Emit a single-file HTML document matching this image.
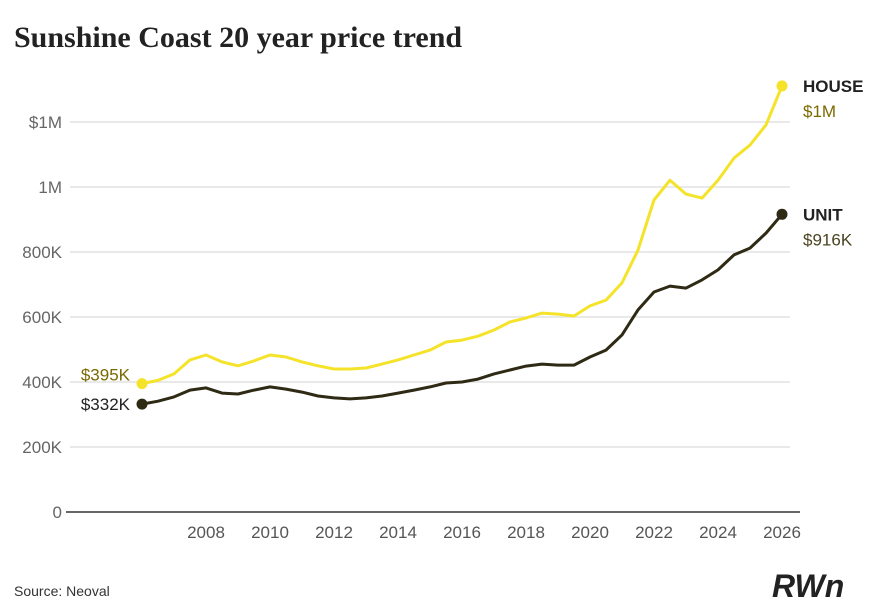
<!DOCTYPE html>
<html><head><meta charset="utf-8"><style>
body{margin:0;background:#fff;width:879px;height:614px;overflow:hidden;font-family:"Liberation Sans",sans-serif}
svg{display:block}
</style></head><body>
<svg width="879" height="614">
<text x="14" y="47" font-family="Liberation Serif,serif" font-weight="bold" font-size="30" fill="#222">Sunshine Coast 20 year price trend</text>
<g id="grid"></g>
<g id="yt"></g>
<g id="xt"></g>
<g id="series"></g>
<text x="14" y="596" font-size="14" fill="#333">Source: Neoval</text>
<text x="772" y="597" font-size="32" font-weight="bold" font-style="italic" fill="#222">RWn</text>
</svg>
<script>
const years=[2006,2006.5,2007,2007.5,2008,2008.5,2009,2009.5,2010,2010.5,2011,2011.5,2012,2012.5,2013,2013.5,2014,2014.5,2015,2015.5,2016,2016.5,2017,2017.5,2018,2018.5,2019,2019.5,2020,2020.5,2021,2021.5,2022,2022.5,2023,2023.5,2024,2024.5,2025,2025.5,2026];
const house=[395,405,425,468,483,462,450,465,483,477,462,450,440,440,443,455,468,483,498,523,529,541,560,585,597,612,609,603,634,652,705,806,960,1021,978,966,1021,1089,1129,1191,1311];
const unit=[332,341,354,375,382,366,363,375,385,378,369,357,351,348,351,357,366,375,385,397,400,409,425,437,449,455,452,452,477,498,545,622,677,695,689,714,745,791,812,858,916];
const yTicks=[0,200,400,600,800,1000,1200];
const yLabels=["0","200K","400K","600K","800K","1M","$1M"];
const xTicks=[2008,2010,2012,2014,2016,2018,2020,2022,2024,2026];
const NS="http://www.w3.org/2000/svg";
const X=v=>142+(v-2006)*32;
const Y=v=>512-v*65/200;
function mk(t,a,p){const e=document.createElementNS(NS,t);for(const k in a)e.setAttribute(k,a[k]);p.appendChild(e);return e;}
const grid=document.getElementById('grid'),yt=document.getElementById('yt'),xt=document.getElementById('xt'),se=document.getElementById('series');
yTicks.forEach((v,i)=>{
 if(v>0){const l=mk('line',{x1:70,x2:790,y1:Y(v),y2:Y(v),stroke:'#e2e2e2','stroke-width':1.5},grid);
 
 }
 const t=mk('text',{x:62,y:Y(v)+6,'text-anchor':'end','font-size':17,fill:'#666'},yt);
 t.textContent=yLabels[i];
 
 
});
const ax=mk('line',{x1:66,x2:800,y1:512,y2:512,stroke:'#333','stroke-width':1.5},grid);


xTicks.forEach(v=>{
 const t=mk('text',{x:X(v),y:538,'text-anchor':'middle','font-size':17,fill:'#555'},xt);
 t.textContent=v;
 
 
});
function series(vals,col,name){
 const p=mk('path',{d:vals.map((v,i)=>(i?'L':'M')+X(years[i]).toFixed(1)+','+Y(v).toFixed(1)).join(''),fill:'none',stroke:col,'stroke-width':3,'stroke-linejoin':'round'},se);
 
 
 [0,vals.length-1].forEach(i=>{
  const c=mk('circle',{cx:X(years[i]),cy:Y(vals[i]),r:5.5,fill:col},se);
  
  
 });
}
series(house,'#f5e32a','house');
series(unit,'#2e2a14','unit');
function lab(x,y,txt,col,w,anchor,name){
 const t=mk('text',{x:x,y:y,'font-size':17,fill:col,'font-weight':w,'text-anchor':anchor},se);
 t.textContent=txt;
 
 
}
const hl=house[house.length-1],ul=unit[unit.length-1];
lab(803,Y(hl)+6,'HOUSE','#222','bold','start','house-legend-label');
lab(803,Y(hl)+31,'$1M','#7a6a00','normal','start','house-end-value');
lab(803,Y(ul)+6,'UNIT','#222','bold','start','unit-legend-label');
lab(803,Y(ul)+31,'$'+ul+'K','#4a4420','normal','start','unit-end-value');
lab(130,Y(house[0])-3,'$'+house[0]+'K','#7a6a00','normal','end','house-start-value');
lab(130,Y(unit[0])+6,'$'+unit[0]+'K','#222','normal','end','unit-start-value');
</script>
</body></html>
